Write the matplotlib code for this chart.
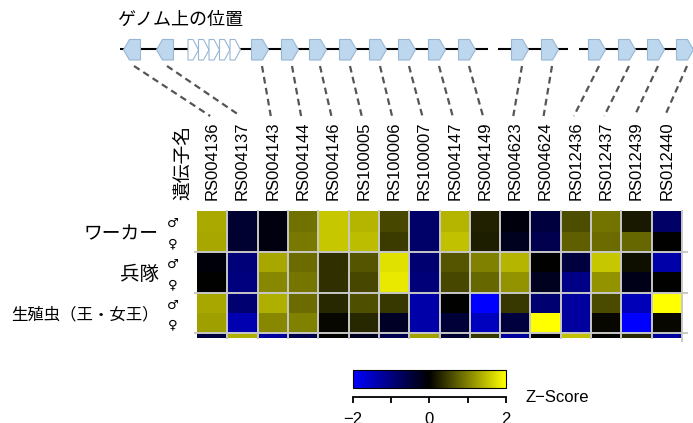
import numpy as np
import matplotlib
matplotlib.use("Agg")
import matplotlib.pyplot as plt
from matplotlib.colors import LinearSegmentedColormap
from matplotlib.patches import Polygon
from matplotlib import transforms

jp = ["Noto Sans CJK JP", "DejaVu Sans"]
latin = ["Liberation Sans", "DejaVu Sans"]

# column labels (genes)
genes = ["RS004136", "RS004137", "RS004143", "RS004144", "RS004146", "RS100005",
         "RS100006", "RS100007", "RS004147", "RS004149", "RS004623", "RS004624",
         "RS012436", "RS012437", "RS012439", "RS012440"]
castes = ["ワーカー", "兵隊", "生殖虫（王・女王）"]
caste_fs = [13.5, 14, 11.8]
sexes = ["♂", "♀"]

# z-scores, rows: W♂ W♀ S♂ S♀ R♂ R♀ + cut-off row
w_m = [1.32, -0.38, -0.12, 0.88, 1.55, 1.42, 0.55, -0.82, 1.42, 0.25, -0.10, -0.50, 0.60, 0.90, 0.20, -0.80]
w_f = [1.30, -0.38, -0.12, 0.95, 1.55, 1.48, 0.46, -0.82, 1.50, 0.22, -0.25, -0.62, 0.74, 0.84, 0.80, 0.00]
s_m = [-0.08, -0.95, 1.30, 0.84, 0.36, 0.66, 1.75, -0.88, 0.66, 1.00, 1.42, 0.00, -0.50, 1.55, 0.12, -1.32]
s_f = [0.00, -1.00, 1.05, 0.92, 0.36, 0.55, 1.82, -0.95, 0.55, 0.80, 1.15, -0.25, -1.05, 1.15, -0.20, 0.00]
r_m = [1.30, -0.88, 1.36, 0.84, 0.30, 0.62, 0.43, -1.32, 0.00, -2.00, 0.43, -0.88, -1.25, 0.58, -1.45, 2.00]
r_f = [1.24, -1.38, 1.05, 1.00, 0.06, 0.30, -0.30, -1.32, -0.44, -1.50, -0.50, 2.00, -1.25, 0.06, -2.00, 0.06]
extra = [-0.50, 1.36, -1.25, -0.62, 0.00, -0.25, -0.62, 1.25, -0.38, 0.43, -1.25, 0.00, 1.50, 0.00, 0.30, -1.25]
zscore = np.array([w_m, w_f, s_m, s_f, r_m, r_f, extra])

# gene track (pixel-ish genome positions), strand of each gene
gene_pos = [132, 165, 260, 290, 318, 348, 378, 407, 437, 467, 520, 550, 597, 627, 656, 685]
gene_strand = [-1, -1, 1, 1, 1, 1, 1, 1, 1, 1, 1, 1, 1, 1, 1, 1]
small_orfs = [188, 198.5, 209, 219.5, 230]
track_segments = [(120, 488), (498, 568), (579, 700)]

W, H = 693, 423
fig = plt.figure(figsize=(W / 100, H / 100), dpi=100)
fig.patch.set_facecolor("white")

ov = fig.add_axes([0, 0, 1, 1])
ov.set_xlim(0, W)
ov.set_ylim(H, 0)
ov.axis("off")

hm = fig.add_axes([197 / W, 1 - 337.5 / H, 485 / W, 126 / H])
cmap = LinearSegmentedColormap.from_list("bky", ["#0000ff", "#000000", "#ffff00"])
mesh = hm.pcolormesh(np.arange(17), np.arange(8), zscore, cmap=cmap, vmin=-2, vmax=2)
hm.set_xlim(0, 16)
hm.set_ylim(6.2, 0)
for s in hm.spines.values():
    s.set_visible(False)
hm.set_yticks([])
hm.xaxis.tick_top()
hm.set_xticks(np.arange(16) + 0.5)
hm.set_xticklabels(genes, rotation=90, fontsize=12, family=latin)
hm.tick_params(axis="x", length=0, pad=8)

grid = "#c8c8c8"
for x in range(1, 17):
    hm.plot([x, x], [0, 6.35 if x == 16 else 6.2], color=grid, lw=1.4, clip_on=False)
for y in (2, 4, 6):
    hm.plot([-0.05, 16.15], [y, y], color=grid, lw=1.4, clip_on=False)

# row labels
tr = transforms.blended_transform_factory(ov.transData, hm.transData)
for g, name in enumerate(castes):
    ov.text(159, 2 * g + 1.1, name, transform=tr, ha="right", va="center",
            fontsize=caste_fs[g], family=jp)
    for k, sx in enumerate(sexes):
        ov.text(173, 2 * g + k + 0.6, sx, transform=tr, ha="center", va="center",
                fontsize=9.5, family=["DejaVu Sans"])

ov.text(184, 200, "遺伝子名", rotation=90, ha="center", va="bottom",
        fontsize=13.5, family=jp)
ov.text(117, 20, "ゲノム上の位置", ha="left", va="center", fontsize=13, family=jp)

# genome track
for a, b in track_segments:
    ov.plot([a, b], [49.5, 49.5], color="black", lw=1.5, zorder=1, solid_capstyle="butt")

face, edge = "#bdd7ee", "#98b6d4"
top, bot, mid = 39.5, 60, 49.75
for gx, st in zip(gene_pos, gene_strand):
    pts = np.array([[-8.5, top], [2.5, top], [8.5, mid], [2.5, bot], [-8.5, bot]])
    pts[:, 0] = gx + st * pts[:, 0]
    ov.add_patch(Polygon(pts, closed=True, fc=face, ec=edge, lw=0.8, zorder=3))
for lx in small_orfs:
    pts = [[lx, top], [lx + 5, top], [lx + 10.5, mid], [lx + 5, bot], [lx, bot]]
    ov.add_patch(Polygon(pts, closed=True, fc="white", ec=edge, lw=0.8, zorder=3))

# dashed links from genes to columns
inv = ov.transData.inverted()
for i, gx in enumerate(gene_pos):
    cx, _ = inv.transform(hm.transData.transform((i + 0.5, 0)))
    ov.plot([gx + 2, cx - 2], [66, 116], color="#555555", lw=1.6,
            ls=(0, (3, 2)), zorder=2)

# colour key
cax = fig.add_axes([352.7 / W, 1 - 388.3 / H, 153.3 / W, 18.3 / H])
cb = fig.colorbar(mesh, cax=cax, orientation="horizontal")
cb.outline.set_linewidth(0.8)
cb.set_ticks([-2, -1, 0, 1, 2])
cb.set_ticklabels(["−2", "", "0", "", "2"])
cax.spines["bottom"].set_visible(True)
cax.spines["bottom"].set_position(("outward", 6.5))
cax.spines["bottom"].set_linewidth(1.3)
cax.tick_params(axis="x", direction="out", length=4, width=1.3, pad=6.5, labelsize=12)
for t in cax.get_xticklabels():
    t.set_family(latin)
ov.text(525, 397, "Z−Score", ha="left", va="center", fontsize=12, family=latin)

fig.savefig("out.png", dpi=100)
